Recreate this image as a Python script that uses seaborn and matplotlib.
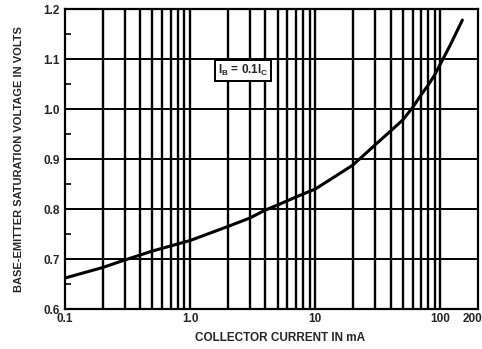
import numpy as np
import matplotlib
matplotlib.use("Agg")
import matplotlib.pyplot as plt
import seaborn as sns
import pandas as pd
from matplotlib.ticker import FixedLocator, NullFormatter
from matplotlib.transforms import ScaledTranslation

# values (IB = 0.1 IC)
current_ma = [0.1, 0.2, 0.3, 0.5, 1.0, 2.0, 3.0, 4.0, 5.0, 7.0, 10, 13,
              20, 30, 40, 50, 60, 70, 80, 90, 100, 120, 150]
vbe_sat = [0.662, 0.683, 0.698, 0.716, 0.737, 0.765, 0.782, 0.798, 0.808,
           0.824, 0.840, 0.858, 0.888, 0.928, 0.956, 0.978, 1.003, 1.028,
           1.048, 1.068, 1.090, 1.128, 1.178]

x_major = [0.1, 1.0, 10, 100, 200]
x_labels = ["0.1", "1.0", "10", "100", "200"]
y_major = [0.6, 0.7, 0.8, 0.9, 1.0, 1.1, 1.2]
y_labels = ["0.6", "0.7", "0.8", "0.9", "1.0", "1.1", "1.2"]

sns.set_style("white")
plt.rcParams['font.family'] = ['Liberation Sans Narrow', 'Liberation Sans', 'DejaVu Sans']

df = pd.DataFrame({"current": current_ma, "vbe": vbe_sat})

fig = plt.figure(figsize=(4.82, 3.49), dpi=100)
ax = fig.add_axes([0.1349, 0.1146, 0.8568, 0.8594])

# grid lines: every 1..9 of each decade, and every 0.1 V
grid_x = [m * 10.0 ** e for e in range(-1, 3) for m in range(1, 10)]
grid_x = [g for g in grid_x if 0.1 < g < 200]
for g in grid_x:
    ax.axvline(g, color="black", lw=1.7, zorder=1)
for g in y_major[1:-1]:
    ax.axhline(g, color="black", lw=1.4, zorder=1)

sns.lineplot(data=df, x="current", y="vbe", ax=ax, color="black", lw=2.2, zorder=3)

ax.set_xscale("log")
ax.set_xlim(0.1, 200)
ax.set_ylim(0.6, 1.2)

ax.xaxis.set_major_locator(FixedLocator(x_major))
ax.set_xticklabels(x_labels, fontweight="bold")
ax.xaxis.set_minor_locator(FixedLocator([]))
ax.xaxis.set_minor_formatter(NullFormatter())
ax.tick_params(axis="x", which="major", length=0, labelsize=8.5, pad=3)
# last label sits on the right edge; nudge it in so it stays on the figure
last = ax.get_xticklabels()[-1]
last.set_ha("right")
last.set_transform(last.get_transform() + ScaledTranslation(4 / 100, 0, fig.dpi_scale_trans))

ax.yaxis.set_major_locator(FixedLocator(y_major))
ax.set_yticklabels(y_labels, fontweight="bold")
ax.yaxis.set_minor_locator(FixedLocator([0.65, 0.75, 0.85, 0.95, 1.05, 1.15]))
ax.tick_params(axis="y", which="major", length=0, labelsize=8.5, pad=4)
ax.tick_params(axis="y", which="minor", left=True, direction="in", length=4,
               width=1.2, color="black")

for s in ax.spines.values():
    s.set_color("black")
    s.set_linewidth(1.6)

ax.set_xlabel("COLLECTOR CURRENT IN mA", fontsize=8.5, fontweight="bold")
ax.xaxis.set_label_coords(0.52, -0.078)
ax.set_ylabel("BASE-EMITTER SATURATION VOLTAGE IN VOLTS", fontsize=8,
              fontweight="bold", labelpad=14)

ax.text(2.65, 1.078, r"I$_\mathregular{B}$ = 0.1I$_\mathregular{C}$", fontsize=8.5,
        ha="center", va="center", zorder=4, fontweight="bold",
        bbox=dict(boxstyle="square,pad=0.25", fc="white", ec="black", lw=1.4))

fig.savefig("out.png", dpi=100)
